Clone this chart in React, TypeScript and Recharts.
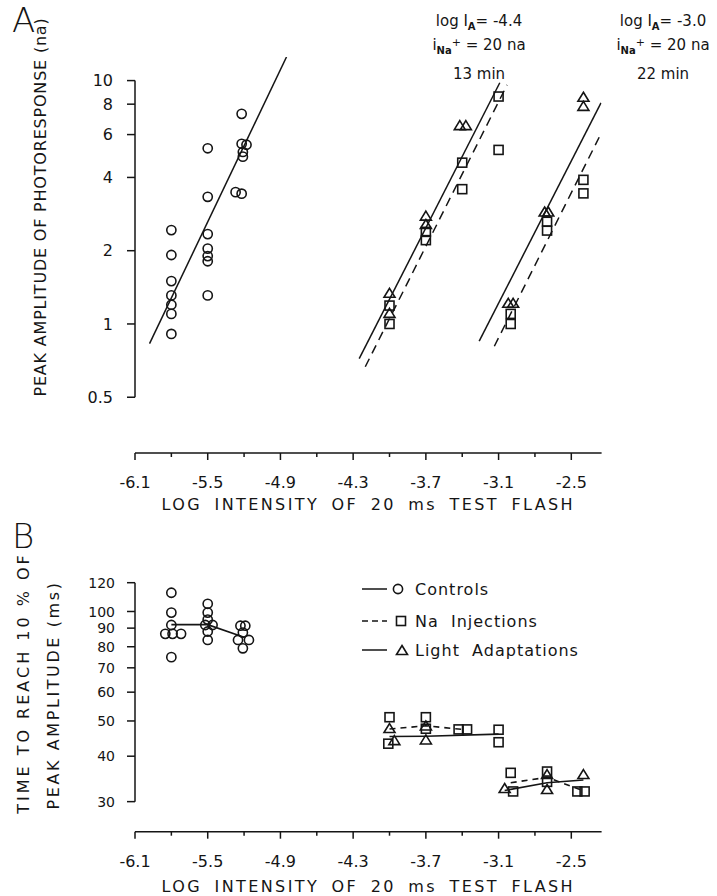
import React from "react";
import { ComposedChart, Scatter, Line, XAxis, YAxis, ReferenceLine, Legend } from "recharts";

const FONT = "'DejaVu Sans', sans-serif";
const INK = "#151515";

// shared x axis (log intensity of test flash)
const xMajor = [-6.1, -5.5, -4.9, -4.3, -3.7, -3.1, -2.5];
const xMinor = [-5.8, -5.2, -4.6, -4.0, -3.4, -2.8];
const xLabels = ["-6.1", "-5.5", "-4.9", "-4.3", "-3.7", "-3.1", "-2.5"];

const ampTicks = [0.5, 1, 2, 4, 6, 8, 10];
const timeTicks = [30, 40, 50, 60, 70, 80, 90, 100, 120];

// panel A: peak amplitude of photoresponse (na)
const ampCtrl = [
  [-5.8, 2.43], [-5.8, 1.92], [-5.8, 1.5], [-5.8, 1.31], [-5.8, 1.2], [-5.8, 1.1], [-5.8, 0.91],
  [-5.5, 5.27], [-5.5, 3.33], [-5.5, 2.34], [-5.5, 2.04], [-5.5, 1.9], [-5.5, 1.81], [-5.5, 1.31],
  [-5.22, 7.3], [-5.22, 5.5], [-5.18, 5.45], [-5.21, 5.09], [-5.21, 4.87], [-5.27, 3.48], [-5.22, 3.43],
];
const ampNa = [
  [-4.0, 1.19], [-4.0, 1.0], [-3.7, 2.39], [-3.7, 2.21], [-3.4, 4.6], [-3.4, 3.58], [-3.1, 8.6], [-3.1, 5.19],
  [-3.0, 1.1], [-3.0, 1.0], [-2.7, 2.63], [-2.7, 2.42], [-2.4, 3.91], [-2.4, 3.44],
];
const ampLight = [
  [-4.0, 1.33], [-4.0, 1.1], [-3.7, 2.76], [-3.7, 2.55], [-3.42, 6.5], [-3.37, 6.5],
  [-3.02, 1.21], [-2.98, 1.21], [-2.72, 2.87], [-2.69, 2.87], [-2.4, 8.5], [-2.4, 7.8],
];
const fitCtrl = [[-5.98, 0.83], [-4.85, 12.5]];
const fitNa1 = [[-4.2, 0.667], [-3.03, 9.6]];
const fitNa2 = [[-3.135, 0.81], [-2.27, 5.85]];
const fitLight1 = [[-4.25, 0.72], [-3.09, 9.8]];
const fitLight2 = [[-3.26, 0.85], [-2.255, 8.1]];

// panel B: time to reach 10% of peak amplitude (ms)
const timeCtrl = [
  [-5.8, 112.6], [-5.8, 99.3], [-5.8, 91.8], [-5.85, 86.8], [-5.79, 86.8], [-5.72, 86.8], [-5.8, 74.9],
  [-5.5, 105], [-5.5, 99.3], [-5.5, 95], [-5.52, 91.8], [-5.46, 91.8], [-5.5, 88.1], [-5.5, 83.5],
  [-5.23, 91.4], [-5.19, 91.4], [-5.21, 87.5], [-5.25, 83.5], [-5.16, 83.5], [-5.21, 79.2],
];
const timeNa = [
  [-4.0, 51.2], [-4.01, 43.3], [-3.7, 51.2], [-3.7, 47.6], [-3.43, 47.4], [-3.36, 47.4], [-3.1, 47.3], [-3.1, 43.7],
  [-3.0, 36], [-2.98, 32], [-2.7, 36.3], [-2.7, 34], [-2.45, 32], [-2.39, 32],
];
const timeLight = [
  [-4.0, 47.5], [-3.96, 44], [-3.7, 48.3], [-3.7, 44.2], [-3.05, 32.5], [-2.7, 35.5], [-2.7, 32.3], [-2.4, 35.5],
];
const meanCtrl = [[-5.8, 92], [-5.5, 92], [-5.2, 85]];
const meanNa1 = [[-4.0, 47.5], [-3.7, 48.5], [-3.4, 47.4]];
const meanNa2 = [[-3.0, 33.8], [-2.7, 35], [-2.42, 32.3]];
const meanLight1 = [[-4.0, 45.3], [-3.7, 45.4], [-3.1, 46.0]];
const meanLight2 = [[-3.05, 32.2], [-2.7, 33.8], [-2.4, 34.4]];

const legendLabels = ["Controls", "Na  Injections", "Light  Adaptations"];

const pts = (a: number[][]) => a.map(([x, y]) => ({ x, y }));

const Circle = (p: any) => <circle cx={p.cx} cy={p.cy} r={4.6} fill="none" stroke={INK} strokeWidth={1.6} />;
const Square = (p: any) => (
  <rect x={p.cx - 4.5} y={p.cy - 4.5} width={9} height={9} fill="none" stroke={INK} strokeWidth={1.6} />
);
const Tri = (p: any) => (
  <path d={`M${p.cx},${p.cy - 5.5} L${p.cx + 5.5},${p.cy + 3.5} L${p.cx - 5.5},${p.cy + 3.5} Z`} fill="none" stroke={INK} strokeWidth={1.6} />
);

function XTick({ x, y, payload }: any) {
  const i = xMajor.indexOf(payload.value);
  if (i < 0) return <line x1={x} y1={y} x2={x} y2={y + 4} stroke={INK} strokeWidth={1.5} />;
  return (
    <g>
      <line x1={x} y1={y} x2={x} y2={y + 7} stroke={INK} strokeWidth={1.5} />
      <text x={x} y={y + 35} textAnchor="middle" fontFamily={FONT} fontSize={16} fill={INK}>
        {xLabels[i]}
      </text>
    </g>
  );
}

function YTick({ x, y, payload, gap, size }: any) {
  return (
    <g>
      <line x1={x - 8} y1={y} x2={x} y2={y} stroke={INK} strokeWidth={1.5} />
      <text x={x - gap} y={y} dy="0.36em" textAnchor="end" fontFamily={FONT} fontSize={size} fill={INK}>
        {String(payload.value)}
      </text>
    </g>
  );
}

function XTitle({ viewBox, lift }: any) {
  return (
    <text
      x={viewBox.x + viewBox.width / 2}
      y={viewBox.y + viewBox.height - lift}
      textAnchor="middle"
      fontFamily={FONT}
      fontSize={16}
      letterSpacing={2.4}
      wordSpacing={5}
      fill={INK}
    >
      LOG INTENSITY OF 20 ms TEST FLASH
    </text>
  );
}

function YTitleA() {
  return (
    <text transform="translate(40,207) rotate(-90)" textAnchor="middle" dominantBaseline="central"
      fontFamily={FONT} fontSize={16} letterSpacing={0.8} fill={INK}>
      PEAK AMPLITUDE OF PHOTORESPONSE (na)
    </text>
  );
}

function YTitleB() {
  return (
    <g fontFamily={FONT} fontSize={16} fill={INK} textAnchor="middle">
      <text transform="translate(23,165) rotate(-90)" dominantBaseline="central" letterSpacing={3}>
        TIME TO REACH 10 % OF
      </text>
      <text transform="translate(53,177) rotate(-90)" dominantBaseline="central" letterSpacing={2.6}>
        PEAK AMPLITUDE (ms)
      </text>
    </g>
  );
}

const legendRows = [14, 46, 75];

function KeyBox() {
  return (
    <div style={{ position: "relative", width: 260, height: 90, fontFamily: FONT, fontSize: 16, color: INK }}>
      {legendLabels.map((label, i) => (
        <div key={label} style={{ position: "absolute", left: 0, top: legendRows[i] - 10, height: 20, display: "flex", alignItems: "center" }}>
          <svg width={56} height={20}>
            <line x1={7} y1={10} x2={32} y2={10} stroke={INK} strokeWidth={1.5} strokeDasharray={i === 1 ? "6 4" : undefined} />
            {i === 0 && <Circle cx={43} cy={10} />}
            {i === 1 && <Square cx={46} cy={10} />}
            {i === 2 && <Tri cx={47} cy={11} />}
          </svg>
          <span style={{ whiteSpace: "pre", letterSpacing: 1, marginLeft: 4 }}>{label}</span>
        </div>
      ))}
    </div>
  );
}

const notes = [
  { cx: 479, logI: "-4.4", mins: "13 min" },
  { cx: 663, logI: "-3.0", mins: "22 min" },
];

function Note({ cx, logI, mins }: any) {
  const line = (top: number, child: React.ReactNode) => (
    <div style={{ position: "absolute", left: cx - 75, top, width: 150, height: 20, lineHeight: "20px", textAlign: "center", whiteSpace: "pre" }}>
      {child}
    </div>
  );
  const sub = { fontSize: 10, verticalAlign: "-4px", fontWeight: 700 } as const;
  return (
    <>
      {line(11, <span>log I<span style={sub}>A</span>= {logI}</span>)}
      {line(33, <span>i<span style={sub}>Na</span><span style={{ fontSize: 11, verticalAlign: "4px" }}>+</span> = 20 na</span>)}
      {line(64, <span>{mins}</span>)}
    </>
  );
}

const common = {
  xAxis: {
    type: "number" as const,
    dataKey: "x",
    domain: [-6.1, -2.25],
    ticks: [...xMajor, ...xMinor].sort((a, b) => a - b),
    interval: 0 as const,
    allowDataOverflow: true,
    height: 60,
    tickSize: 0,
    tickMargin: 0,
    tickLine: false,
    axisLine: { stroke: INK, strokeWidth: 1.5 },
    tick: (p: any) => <XTick {...p} />,
  },
};

function PanelA() {
  return (
    <ComposedChart width={717} height={518} margin={{ top: 57, right: 115.4, bottom: 5, left: 75 }}>
      <XAxis {...common.xAxis} label={<XTitle lift={3} />} />
      <YAxis
        type="number"
        dataKey="y"
        scale="log"
        domain={[0.295, 12.5]}
        ticks={ampTicks}
        interval={0}
        allowDataOverflow
        width={60}
        tickSize={0}
        tickMargin={0}
        tickLine={false}
        axisLine={false}
        tick={(p: any) => <YTick {...p} gap={22} size={16} />}
        label={<YTitleA />}
      />
      <ReferenceLine segment={[{ x: -6.1, y: 0.5 }, { x: -6.1, y: 10 }]} stroke={INK} strokeWidth={1.5} ifOverflow="visible" />
      <Line data={pts(fitCtrl)} dataKey="y" stroke={INK} strokeWidth={1.5} dot={false} activeDot={false} isAnimationActive={false} />
      <Line data={pts(fitLight1)} dataKey="y" stroke={INK} strokeWidth={1.5} dot={false} activeDot={false} isAnimationActive={false} />
      <Line data={pts(fitLight2)} dataKey="y" stroke={INK} strokeWidth={1.5} dot={false} activeDot={false} isAnimationActive={false} />
      <Line data={pts(fitNa1)} dataKey="y" stroke={INK} strokeWidth={1.5} strokeDasharray="9 6" dot={false} activeDot={false} isAnimationActive={false} />
      <Line data={pts(fitNa2)} dataKey="y" stroke={INK} strokeWidth={1.5} strokeDasharray="9 6" dot={false} activeDot={false} isAnimationActive={false} />
      <Scatter data={pts(ampCtrl)} dataKey="y" shape={Circle} isAnimationActive={false} />
      <Scatter data={pts(ampNa)} dataKey="y" shape={Square} isAnimationActive={false} />
      <Scatter data={pts(ampLight)} dataKey="y" shape={Tri} isAnimationActive={false} />
    </ComposedChart>
  );
}

function PanelB() {
  return (
    <ComposedChart width={717} height={378} margin={{ top: 64.7, right: 115.4, bottom: 4.3, left: 75 }}>
      <XAxis {...common.xAxis} label={<XTitle lift={0} />} />
      <YAxis
        type="number"
        dataKey="y"
        scale="log"
        domain={[24.8, 120]}
        ticks={timeTicks}
        interval={0}
        allowDataOverflow
        width={60}
        tickSize={0}
        tickMargin={0}
        tickLine={false}
        axisLine={false}
        tick={(p: any) => <YTick {...p} gap={20} size={14} />}
        label={<YTitleB />}
      />
      <ReferenceLine segment={[{ x: -6.1, y: 30 }, { x: -6.1, y: 120 }]} stroke={INK} strokeWidth={1.5} ifOverflow="visible" />
      <Line data={pts(meanCtrl)} dataKey="y" stroke={INK} strokeWidth={1.6} dot={false} activeDot={false} isAnimationActive={false} />
      <Line data={pts(meanLight1)} dataKey="y" stroke={INK} strokeWidth={1.6} dot={false} activeDot={false} isAnimationActive={false} />
      <Line data={pts(meanLight2)} dataKey="y" stroke={INK} strokeWidth={1.6} dot={false} activeDot={false} isAnimationActive={false} />
      <Line data={pts(meanNa1)} dataKey="y" stroke={INK} strokeWidth={1.6} strokeDasharray="6 5" dot={false} activeDot={false} isAnimationActive={false} />
      <Line data={pts(meanNa2)} dataKey="y" stroke={INK} strokeWidth={1.6} strokeDasharray="6 5" dot={false} activeDot={false} isAnimationActive={false} />
      <Scatter data={pts(timeCtrl)} dataKey="y" shape={Circle} isAnimationActive={false} />
      <Scatter data={pts(timeNa)} dataKey="y" shape={Square} isAnimationActive={false} />
      <Scatter data={pts(timeLight)} dataKey="y" shape={Tri} isAnimationActive={false} />
      <Legend
        content={<KeyBox />}
        layout="horizontal"
        verticalAlign="middle"
        align="center"
        wrapperStyle={{ left: 355, top: 57, width: 260, height: 90 }}
      />
    </ComposedChart>
  );
}

export default function App() {
  const letter = { position: "absolute", left: 12, fontSize: 34, fontWeight: 200, lineHeight: 1 } as const;
  return (
    <div style={{ position: "absolute", left: 0, top: 0, width: 717, height: 896, background: "#fff", fontFamily: FONT, fontSize: 15, color: INK, overflow: "hidden" }}>
      <div style={{ position: "absolute", left: 0, top: 0 }}>
        <PanelA />
      </div>
      <div style={{ position: "absolute", left: 0, top: 518 }}>
        <PanelB />
      </div>
      <div style={{ ...letter, top: 3 }}>A</div>
      <div style={{ ...letter, top: 519 }}>B</div>
      {notes.map((n) => (
        <Note key={n.cx} {...n} />
      ))}
    </div>
  );
}
